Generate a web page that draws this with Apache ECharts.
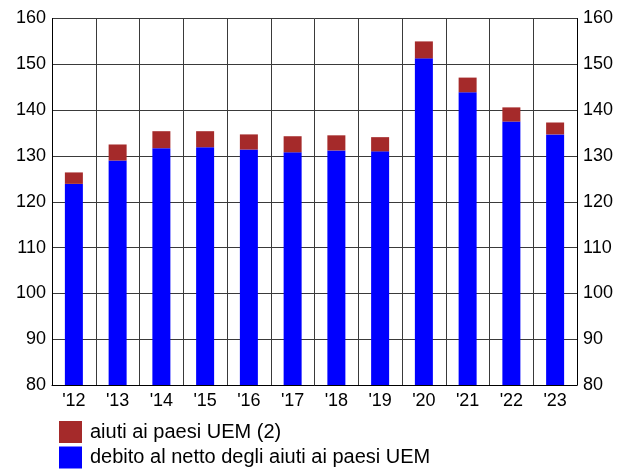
<!DOCTYPE html>
<html>
<head>
<meta charset="utf-8">
<script src="https://cdn.jsdelivr.net/npm/echarts@6/dist/echarts.min.js"></script>
<style>
  html, body { margin: 0; padding: 0; background: #fff; }
  #chart { width: 628px; height: 471px; }
</style>
</head>
<body>
<div id="chart"></div>
<script>
// Years on the horizontal axis
const years = ["'12", "'13", "'14", "'15", "'16", "'17", "'18", "'19", "'20", "'21", "'22", "'23"];
// Debt net of EMU country support (lower, blue segment)
const debtNet = [123.9, 129.0, 131.7, 131.9, 131.4, 130.8, 131.2, 131.0, 151.3, 143.9, 137.5, 134.7];
// Support to EMU countries (upper, red segment)
const emuAid = [2.5, 3.5, 3.7, 3.5, 3.3, 3.5, 3.3, 3.1, 3.7, 3.2, 3.1, 2.6];
// Series names shown in the legend
const nameAid = 'aiuti ai paesi UEM (2)';
const nameNet = 'debito al netto degli aiuti ai paesi UEM';

const FONT = '"Liberation Sans", Arial, sans-serif';
const GRID_LINE = { show: true, lineStyle: { color: '#3a3a3a', width: 1 } };

const valueAxis = (pos) => ({
  type: 'value',
  position: pos,
  min: 80,
  max: 160,
  interval: 10,
  axisLine: { show: true, lineStyle: { color: '#000', width: 1 } },
  axisTick: { show: false },
  axisLabel: { color: '#000', fontSize: 18, fontFamily: FONT, margin: 6 },
  splitLine: pos === 'left' ? GRID_LINE : { show: false }
});

const chart = echarts.init(document.getElementById('chart'), null, { renderer: 'canvas' });
chart.setOption({
  animation: false,
  backgroundColor: '#fff',
  grid: { left: 52, right: 51, top: 18.5, bottom: 86, containLabel: false },
  legend: {
    orient: 'vertical',
    left: 59,
    top: 421,
    padding: 0,
    itemWidth: 23,
    itemHeight: 22,
    itemGap: 3.5,
    icon: 'rect',
    data: [nameAid, nameNet],
    textStyle: { color: '#000', fontSize: 20, lineHeight: 22, fontFamily: FONT, padding: [0, 0, 0, 3] }
  },
  xAxis: {
    type: 'category',
    data: years,
    axisLine: { show: true, lineStyle: { color: '#000', width: 1 } },
    axisTick: { show: false },
    axisLabel: { color: '#000', fontSize: 18, fontFamily: FONT, margin: 7 },
    splitLine: { show: true, interval: 0, lineStyle: { color: '#3a3a3a', width: 1 } }
  },
  yAxis: [valueAxis('left'), valueAxis('right')],
  series: [
    {
      name: nameNet,
      type: 'bar',
      stack: 'debt',
      barWidth: 18,
      itemStyle: { color: '#0000ff' },
      data: debtNet
    },
    {
      name: nameAid,
      type: 'bar',
      stack: 'debt',
      barWidth: 18,
      itemStyle: { color: '#a52a2a' },
      data: emuAid
    }
  ]
});
</script>
</body>
</html>
